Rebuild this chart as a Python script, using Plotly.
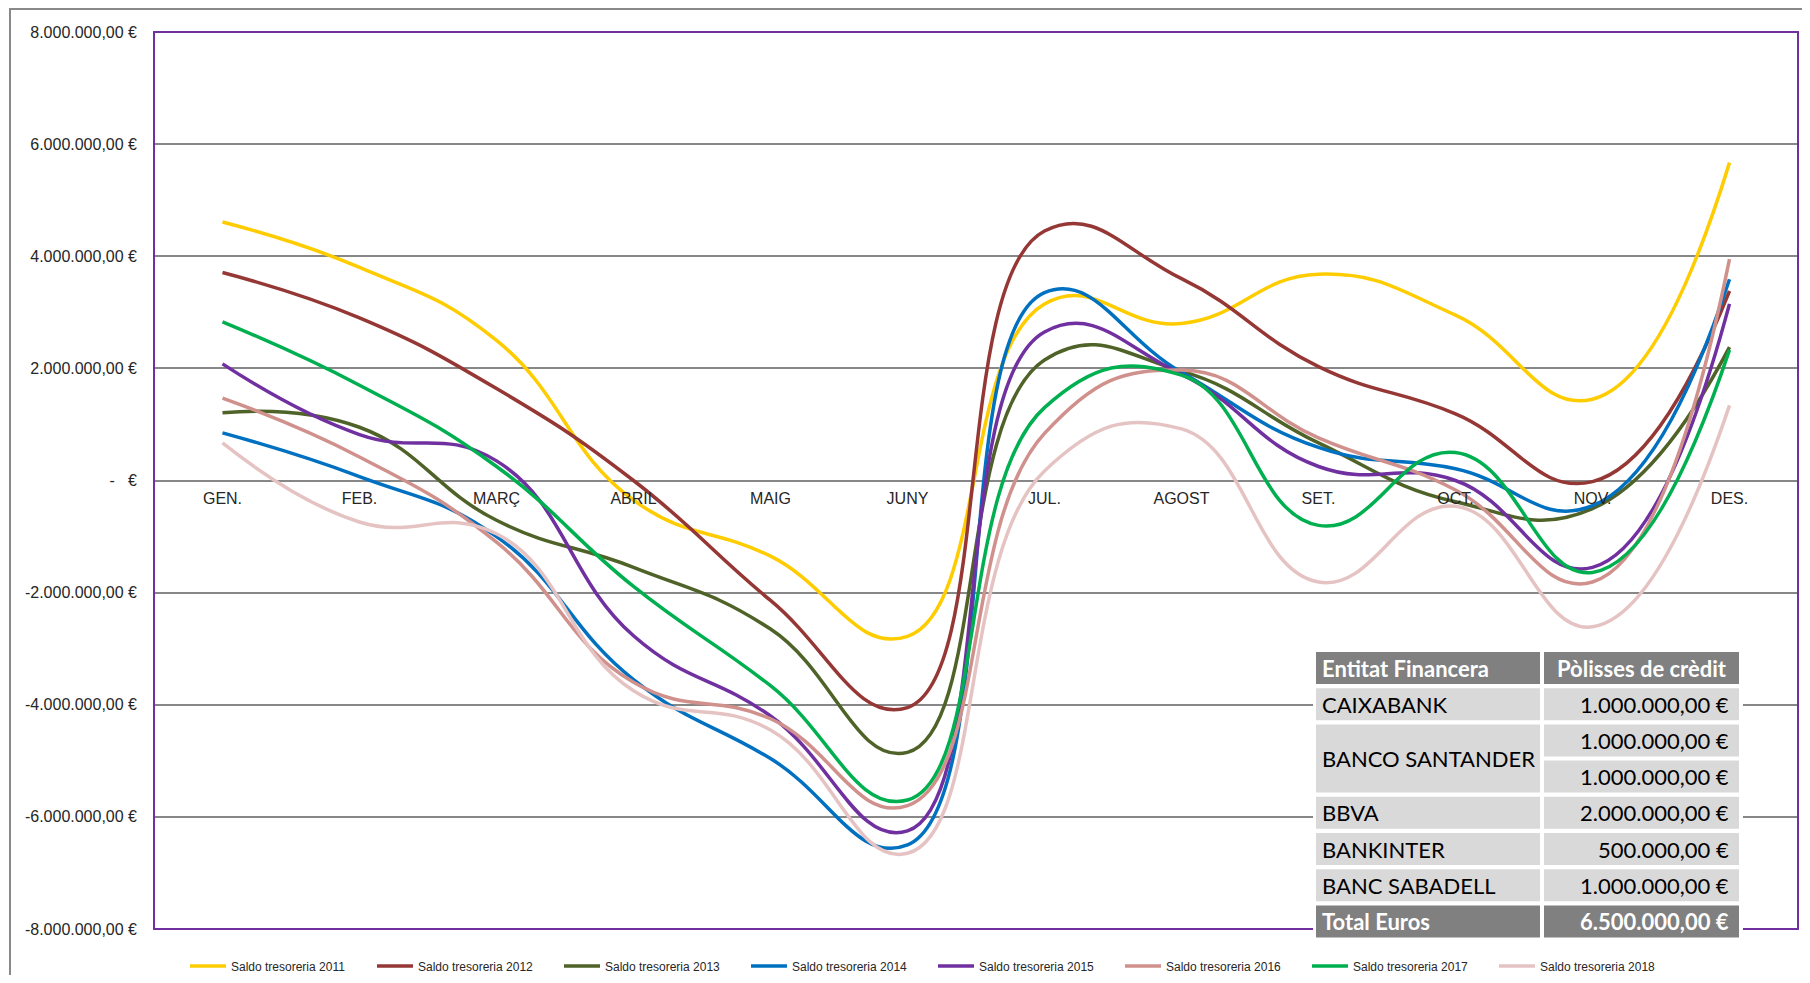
import plotly.graph_objects as go

# ---------------- data ----------------
months = ["GEN.", "FEB.", "MARÇ", "ABRIL", "MAIG", "JUNY",
          "JUL.", "AGOST", "SET.", "OCT.", "NOV.", "DES."]

saldo_2011 = [4610000, 3800000, 2500000, -350000, -1350000, -2780000,
              3150000, 2800000, 3680000, 2950000, 1450000, 5670000]
saldo_2012 = [3710000, 2900000, 1640000, 0, -2140000, -4050000,
              4450000, 3600000, 2030000, 1190000, -20000, 3380000]
saldo_2013 = [1210000, 950000, -710000, -1550000, -2650000, -4850000,
              2150000, 1950000, 670000, -380000, -500000, 2380000]
saldo_2014 = [850000, 70000, -1000000, -3550000, -4960000, -6500000,
              3350000, 1930000, 590000, 210000, -450000, 3590000]
saldo_2015 = [2080000, 820000, 350000, -2770000, -4200000, -6250000,
              2650000, 1890000, 250000, 0, -1550000, 3150000]
saldo_2016 = [1470000, 420000, -1100000, -3600000, -4250000, -5800000,
              840000, 1970000, 760000, -170000, -1810000, 3950000]
saldo_2017 = [2830000, 1700000, 250000, -1890000, -3660000, -5700000,
              1300000, 1880000, -800000, 500000, -1640000, 2330000]
saldo_2018 = [670000, -740000, -950000, -3750000, -4450000, -6650000,
              170000, 920000, -1810000, -460000, -2610000, 1340000]

series_names = ["Saldo tresoreria 2011", "Saldo tresoreria 2012", "Saldo tresoreria 2013",
                "Saldo tresoreria 2014", "Saldo tresoreria 2015", "Saldo tresoreria 2016",
                "Saldo tresoreria 2017", "Saldo tresoreria 2018"]
series_values = [saldo_2011, saldo_2012, saldo_2013, saldo_2014,
                 saldo_2015, saldo_2016, saldo_2017, saldo_2018]
series_colors = ["#FFCC00", "#953735", "#4F6228", "#0070C0",
                 "#7030A0", "#D0918D", "#00B050", "#E6C3C3"]

y_ticks = [-8000000, -6000000, -4000000, -2000000, 0,
           2000000, 4000000, 6000000, 8000000]

table_header = ["Entitat Financera", "Pòlisses de crèdit"]
entities = ["CAIXABANK", "BANCO SANTANDER", "BBVA", "BANKINTER", "BANC SABADELL"]
polisses = [[1000000], [1000000, 1000000], [2000000], [500000], [1000000]]
total_label = "Total Euros"


def eur(v):
    if v == 0:
        return "-\u00a0\u00a0\u00a0€"
    s = f"{v:,.2f}".replace(",", "X").replace(".", ",").replace("X", ".")
    return s + " €"


# ---------------- geometry ----------------
# page has an 8px body margin; the figure is sized so page == window
OFF = 8
W, H = 1810 - 2 * OFF, 983 - 2 * OFF
L, T = 154 - OFF, 32 - OFF
R = W - (1798 - OFF)
B = H - (929 - OFF)
PW, PH = W - L - R, H - T - B


def px(x):
    """window x (reference pixels) -> paper x"""
    return (x - OFF - L) / PW


def py(y):
    """window y (reference pixels) -> paper y"""
    return (H - B - (y - OFF)) / PH


AXIS_FONT = "Liberation Sans, Arial, sans-serif"
TABLE_FONT = "Lato, Calibri, sans-serif"

fig = go.Figure()
for name, vals, col in zip(series_names, series_values, series_colors):
    fig.add_trace(go.Scatter(
        x=months, y=vals, name=name, mode="lines",
        line=dict(color=col, width=3.5, shape="spline", smoothing=1.3),
    ))

shapes = []
annotations = []

# outer chart-area border
shapes.append(dict(type="rect", xref="paper", yref="paper",
                   x0=px(10), x1=px(1840), y0=py(1010), y1=py(9),
                   line=dict(color="#898989", width=2), layer="below"))
# plot-area border
shapes.append(dict(type="rect", xref="paper", yref="paper",
                   x0=0, x1=1, y0=0, y1=1,
                   line=dict(color="#7030A0", width=2), layer="above"))

# ---------------- table ----------------
c1 = (1316, 1540)
c2 = (1544, 1739)
row_top0, row_pitch, row_h = 652, 36.2, 32
HEAD_FILL, BODY_FILL = "#808080", "#D9D9D9"


def row_span(i0, i1):
    top = row_top0 + i0 * row_pitch
    bot = row_top0 + i1 * row_pitch + row_h
    return top, bot


def cell(xr, i0, i1, fill):
    top, bot = row_span(i0, i1)
    shapes.append(dict(type="rect", xref="paper", yref="paper",
                       x0=px(xr[0]), x1=px(xr[1]), y0=py(bot), y1=py(top),
                       fillcolor=fill, line=dict(width=0), layer="above"))
    return (top + bot) / 2


def text(x, yc, s, anchor, color, bold=False):
    annotations.append(dict(xref="paper", yref="paper", x=px(x), y=py(yc),
                            text=f"<b>{s}</b>" if bold else s, showarrow=False,
                            xanchor=anchor, yanchor="middle",
                            font=dict(family=TABLE_FONT, size=22, color=color)))


n_rows = 1 + sum(len(p) for p in polisses) + 1
# white background under the table
t_top, t_bot = row_span(0, n_rows - 1)
shapes.append(dict(type="rect", xref="paper", yref="paper",
                   x0=px(c1[0] - 3), x1=px(c2[1] + 4), y0=py(t_bot + 3), y1=py(t_top - 3),
                   fillcolor="white", line=dict(width=0), layer="above"))

yc = cell(c1, 0, 0, HEAD_FILL)
text(c1[0] + 4, yc, table_header[0], "left", "white", bold=True)
yc = cell(c2, 0, 0, HEAD_FILL)
text((c2[0] + c2[1]) / 2, yc, table_header[1], "center", "white", bold=True)

r = 1
for ent, amounts in zip(entities, polisses):
    yc = cell(c1, r, r + len(amounts) - 1, BODY_FILL)
    text(c1[0] + 4, yc, ent, "left", "black")
    for a in amounts:
        yc2 = cell(c2, r, r, BODY_FILL)
        text(c2[1] - 8, yc2, eur(a), "right", "black")
        r += 1

total = sum(sum(p) for p in polisses)
yc = cell(c1, r, r, HEAD_FILL)
text(c1[0] + 4, yc, total_label, "left", "white", bold=True)
yc = cell(c2, r, r, HEAD_FILL)
text(c2[1] - 8, yc, eur(total), "right", "white", bold=True)

fig.update_layout(
    width=W, height=H,
    margin=dict(l=L, r=R, t=T, b=B, autoexpand=False),
    paper_bgcolor="white", plot_bgcolor="white",
    showlegend=True,
    legend=dict(orientation="h", x=px(185), y=py(966), xanchor="left", yanchor="middle",
                font=dict(family=AXIS_FONT, size=12, color="#262626"),
                itemwidth=36, entrywidth=136, entrywidthmode="pixels",
                bgcolor="rgba(0,0,0,0)"),
    shapes=shapes,
    annotations=annotations,
    xaxis=dict(type="category", categoryorder="array", categoryarray=months,
               range=[-0.5, len(months) - 0.5], anchor="free", position=0.5,
               showgrid=False, showline=False, zeroline=False, ticks="",
               tickfont=dict(family=AXIS_FONT, size=16, color="#262626"),
               ticklabelstandoff=6),
    yaxis=dict(range=[y_ticks[0], y_ticks[-1]], tickmode="array", tickvals=y_ticks,
               ticktext=[eur(v) for v in y_ticks],
               showgrid=True, gridcolor="#878787", gridwidth=1.5,
               zeroline=False, showline=False, ticks="",
               tickfont=dict(family=AXIS_FONT, size=16, color="#262626"),
               ticklabelstandoff=16),
)

fig.write_html("out.html")
